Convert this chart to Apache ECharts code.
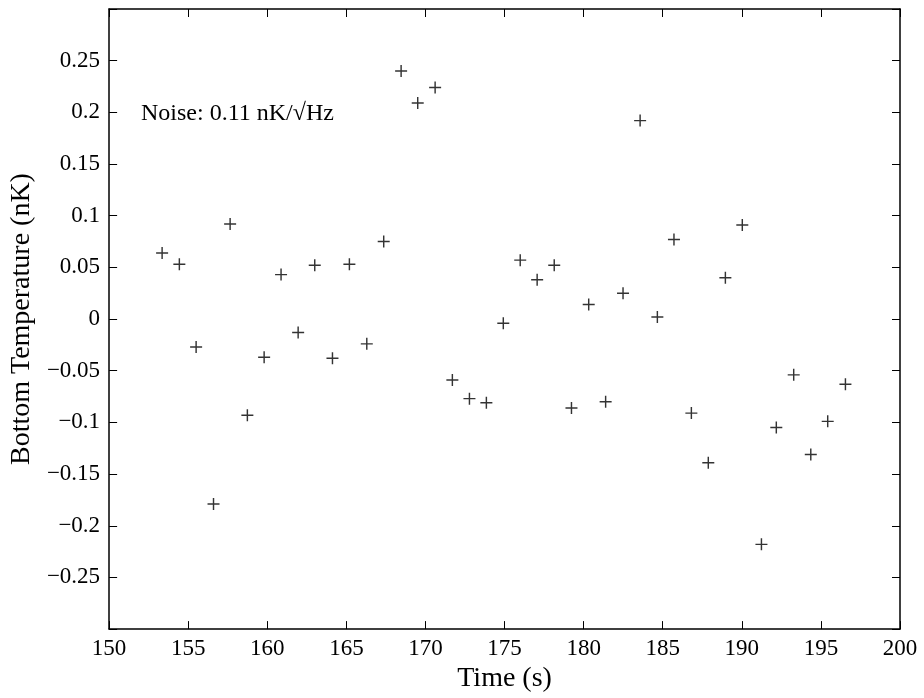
<!DOCTYPE html>
<html>
<head>
<meta charset="utf-8">
<script src="https://cdn.jsdelivr.net/npm/echarts@6/dist/echarts.min.js"></script>
<style>
  html, body { margin: 0; padding: 0; background: #fff; }
  #chart { width: 924px; height: 698px; }
</style>
</head>
<body>
<div id="chart"></div>
<script>
// Sample times (s) and bottom temperature readings (nK)
const timeSec = [153.35, 154.44, 155.5, 156.6, 157.65, 158.74, 159.8, 160.87, 161.95, 163.0,
  164.12, 165.19, 166.29, 167.36, 168.46, 169.51, 170.61, 171.7, 172.78, 173.85,
  174.92, 175.99, 177.06, 178.14, 179.23, 180.32, 181.39, 182.49, 183.57, 184.66,
  185.71, 186.81, 187.88, 188.96, 190.03, 191.24, 192.18, 193.28, 194.36, 195.43, 196.55];
const bottomTemp = [0.064, 0.053, -0.027, -0.179, 0.092, -0.093, -0.037, 0.043, -0.013, 0.052,
  -0.038, 0.053, -0.024, 0.075, 0.240, 0.209, 0.224, -0.059, -0.077, -0.081,
  -0.004, 0.057, 0.038, 0.052, -0.086, 0.014, -0.080, 0.025, 0.192, 0.002,
  0.077, -0.091, -0.139, 0.040, 0.091, -0.218, -0.105, -0.054, -0.131, -0.099, -0.063];
const noiseNote = 'Noise: 0.11 nK/\u221AHz';

const FONT = 'Liberation Serif';
const points = timeSec.map((t, i) => [t, bottomTemp[i]]);

function yLabel(v) {
  const r = Math.round(v * 100) / 100;
  if (Math.abs(r) > 0.29) return '';
  if (r === 0) return '0';
  const s = String(Math.abs(r));
  return (r < 0 ? '\u2212' : '') + s;
}

const tickStyle = { show: true, inside: true, length: 8, lineStyle: { color: '#000', width: 1 } };
const lineStyle = { show: true, onZero: false, lineStyle: { color: '#000', width: 1.5 } };

const chart = echarts.init(document.getElementById('chart'), null, { renderer: 'canvas' });
chart.setOption({
  animation: false,
  backgroundColor: '#fff',
  grid: { left: 109, right: 24, top: 9, bottom: 66 },
  xAxis: [{
    type: 'value', min: 150, max: 200, interval: 5, position: 'bottom',
    name: 'Time (s)', nameLocation: 'middle', nameGap: 30,
    nameTextStyle: { fontFamily: FONT, fontSize: 28, color: '#000' },
    axisLine: lineStyle, axisTick: tickStyle,
    axisLabel: { fontFamily: FONT, fontSize: 23, color: '#000', margin: 8 },
    splitLine: { show: false }
  }, {
    type: 'value', min: 150, max: 200, interval: 5, position: 'top',
    axisLine: lineStyle, axisTick: tickStyle, axisLabel: { show: false },
    splitLine: { show: false }
  }],
  yAxis: [{
    type: 'value', min: -0.3, max: 0.3, interval: 0.05, position: 'left',
    name: 'Bottom Temperature (nK)', nameLocation: 'middle', nameGap: 68,
    nameTextStyle: { fontFamily: FONT, fontSize: 28, color: '#000' },
    axisLine: lineStyle, axisTick: tickStyle,
    axisLabel: { fontFamily: FONT, fontSize: 23, color: '#000', margin: 9, formatter: yLabel },
    splitLine: { show: false }
  }, {
    type: 'value', min: -0.3, max: 0.3, interval: 0.05, position: 'right',
    axisLine: lineStyle, axisTick: tickStyle, axisLabel: { show: false },
    splitLine: { show: false }
  }],
  series: [{
    type: 'scatter',
    xAxisIndex: 0, yAxisIndex: 0,
    data: points,
    symbol: 'path://M0,4.4H10V5.6H0Z M4.4,0H5.6V10H4.4Z',
    symbolSize: 12,
    itemStyle: { color: '#000' }
  }],
  graphic: [{
    type: 'text', left: 141, top: 102,
    style: { text: noiseNote, font: '24px "Liberation Serif"', fill: '#000' }
  }]
});
</script>
</body>
</html>
